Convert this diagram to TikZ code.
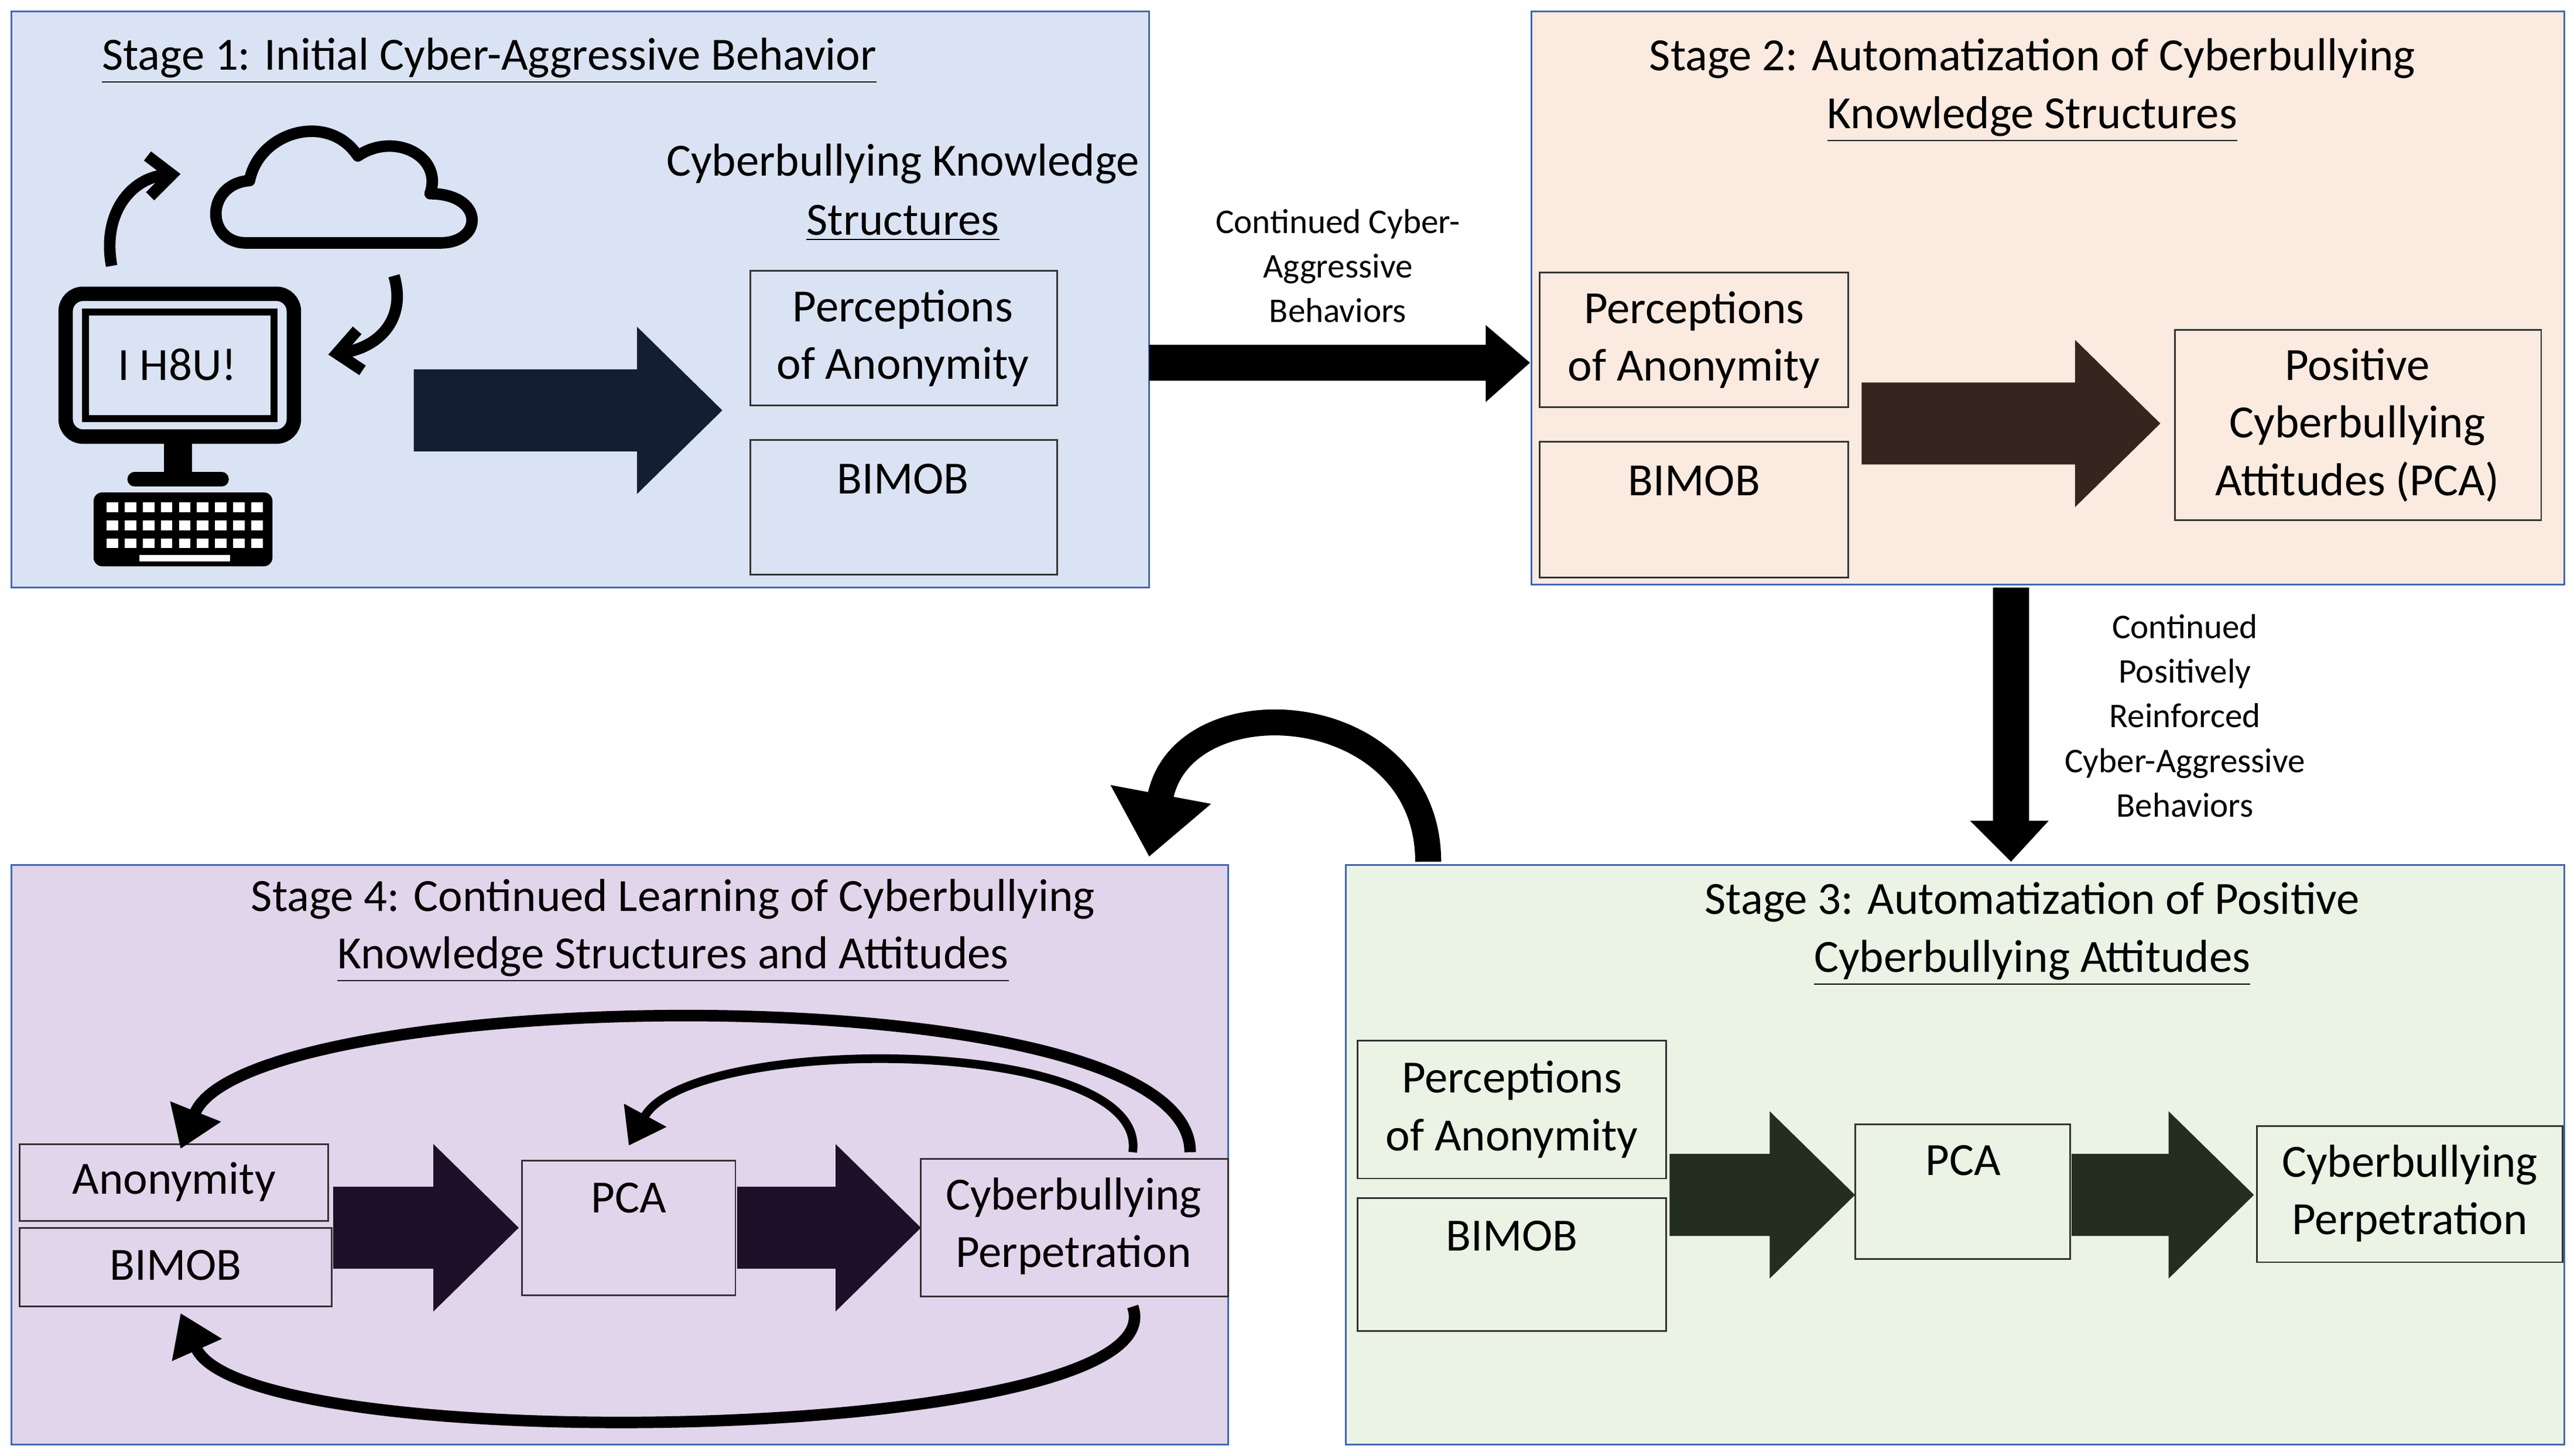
\documentclass[tikz,border=0pt]{standalone}
\usepackage{fontspec}
\setmainfont{Carlito}
\usetikzlibrary{positioning,arrows.meta}
\definecolor{stageblue}{RGB}{218,227,243}
\definecolor{stageorange}{RGB}{251,234,223}
\definecolor{stagegreen}{RGB}{235,243,228}
\definecolor{stagepurple}{RGB}{225,213,235}
\definecolor{edgeblue}{RGB}{68,104,176}
\definecolor{arrowblue}{RGB}{20,30,50}
\definecolor{arrowbrown}{RGB}{52,38,30}
\definecolor{arrowgreen}{RGB}{35,45,32}
\definecolor{arrowpurple}{RGB}{30,16,40}
\tikzset{
  stage/.style={draw=edgeblue, line width=0.6pt},
  box/.style={draw=black!80, line width=0.6pt, fill=none},
  boxtext/.style={font=\fontsize{16}{20}\selectfont, align=center},
  title/.style={font=\fontsize{16}{20}\selectfont, align=center},
  note/.style={font=\fontsize{12}{15.5}\selectfont, align=center},
  loop/.style={line width=9pt, -{Triangle[length=22pt,width=34pt]}},
}
% block arrow: x-start, x-end, y-centre, colour
\newcommand{\blockarrow}[4]{%
  \fill[#4] (#1,#3-25) -- (#2-52,#3-25) -- (#2-52,#3-51) -- (#2,#3)
    -- (#2-52,#3+51) -- (#2-52,#3+25) -- (#1,#3+25) -- cycle;}
\begin{document}
\begin{tikzpicture}[x=0.02cm, y=-0.02cm]
    \useasboundingbox (0,0) rectangle (1568,887);

    % Stage boxes
    \fill[stageblue] (7,7) rectangle (700,358);
    \draw[stage] (7,7) rectangle (700,358);
    \fill[stageorange] (933,7) rectangle (1562,356);
    \draw[stage] (933,7) rectangle (1562,356);
    \fill[stagegreen] (820,527) rectangle (1562,880);
    \draw[stage] (820,527) rectangle (1562,880);
    \fill[stagepurple] (7,527) rectangle (748,880);
    \draw[stage] (7,527) rectangle (748,880);

    % Stage 1
    \node[title] (t1) at (298,37) {\underline{Stage 1: Initial Cyber-Aggressive Behavior}};
    \node[title] (k1) at (550,100) {Cyberbullying Knowledge};
    \node[title] (k1b) at (550,136) {\underline{Structures}};
    \draw[box] (457,165) rectangle (644,247);
    \node[boxtext] (pa1) at (550,206) {Perceptions\\of Anonymity};
    \draw[box] (457,268) rectangle (644,350);
    \node[boxtext] (bi1) at (550,292) {BIMOB};
    \blockarrow{252}{440}{250}{arrowblue}

    % computer icon
    \draw[line width=5pt, rounded corners=6pt] (40,179) rectangle (179,266);
    \draw[line width=2.5pt] (52,190) rectangle (167,255);
    \node[boxtext] (h8u) at (108,222) {I H8U!};
    \fill (100,266) rectangle (117,290);
    \draw[line width=5pt, line cap=round] (82,292) -- (135,292);
    \fill[rounded corners=3pt] (57,300) rectangle (166,345);
    \foreach \r in {0,1,2} {
      \foreach \c in {0,...,8} {
        \fill[white] (65+\c*11,306+\r*11) rectangle (72+\c*11,312+\r*11);
      }
    }
    \fill[white] (85,338) rectangle (140,342);
    % cloud
    \draw[line width=4pt, line join=round]
      (150,148) .. controls (125,148) and (125,112) .. (152,110)
      .. controls (158,80) and (200,68) .. (218,95)
      .. controls (240,80) and (270,95) .. (262,118)
      .. controls (295,118) and (295,148) .. (268,148) -- cycle;
    \draw[line width=4pt, -{Straight Barb[length=8pt,width=14pt]}]
      (68,162) .. controls (62,130) and (80,108) .. (110,106);
    \draw[line width=4pt, -{Straight Barb[length=8pt,width=14pt]}]
      (240,168) .. controls (248,195) and (230,212) .. (200,216);

    % Stage 1 -> 2
    \fill[black] (700,210) -- (905,210) -- (905,198) -- (932,221) -- (905,245)
      -- (905,232) -- (700,232) -- cycle;
    \node[note] (c12) at (815,162) {Continued Cyber-\\Aggressive\\Behaviors};

    % Stage 2
    \node[title] (t2) at (1238,55) {Stage 2: Automatization of Cyberbullying\\\underline{Knowledge Structures}};
    \draw[box] (938,166) rectangle (1126,248);
    \node[boxtext] (pa2) at (1032,207) {Perceptions\\of Anonymity};
    \draw[box] (938,269) rectangle (1126,352);
    \node[boxtext] (bi2) at (1032,293) {BIMOB};
    \blockarrow{1134}{1316}{258}{arrowbrown}
    \draw[box] (1325,201) rectangle (1548,317);
    \node[boxtext] (pca2) at (1436,259) {Positive\\Cyberbullying\\Attitudes (PCA)};

    % Stage 2 -> 3
    \fill[black] (1214,358) -- (1236,358) -- (1236,500) -- (1248,500) -- (1225,525)
      -- (1200,500) -- (1214,500) -- cycle;
    \node[note] (c23) at (1331,436) {Continued\\Positively\\Reinforced\\Cyber-Aggressive\\Behaviors};

    % Stage 3
    \node[title] (t3) at (1238,569) {Stage 3: Automatization of Positive\\\underline{Cyberbullying Attitudes}};
    \draw[box] (827,634) rectangle (1015,718);
    \node[boxtext] (pa3) at (921,676) {Perceptions\\of Anonymity};
    \draw[box] (827,730) rectangle (1015,811);
    \node[boxtext] (bi3) at (921,753) {BIMOB};
    \blockarrow{1017}{1130}{728}{arrowgreen}
    \draw[box] (1130,685) rectangle (1261,767);
    \node[boxtext] (pca3) at (1196,707) {PCA};
    \blockarrow{1262}{1373}{728}{arrowgreen}
    \draw[box] (1375,686) rectangle (1561,769);
    \node[boxtext] (cp3) at (1468,727) {Cyberbullying\\Perpetration};

    % Stage 3 -> 4
    \coordinate (l3) at (870,525);
    \coordinate (l4) at (700,522);
    \draw[loop] (l3) .. controls (870,425) and (720,415) .. (l4);

    % Stage 4
    \node[title] (t4) at (410,567) {Stage 4: Continued Learning of Cyberbullying\\\underline{Knowledge Structures and Attitudes}};
    \draw[box] (12,697) rectangle (200,744);
    \node[boxtext] (an4) at (106,720) {Anonymity};
    \draw[box] (12,748) rectangle (202,796);
    \node[boxtext] (bi4) at (107,771) {BIMOB};
    \blockarrow{203}{316}{748}{arrowpurple}
    \draw[box] (318,707) rectangle (448,789);
    \node[boxtext] (pca4) at (383,730) {PCA};
    \blockarrow{449}{561}{748}{arrowpurple}
    \draw[box] (561,706) rectangle (748,790);
    \node[boxtext] (cp4) at (654,747) {Cyberbullying\\Perpetration};

    % feedback loops
    \coordinate (o1) at (725,702);
    \coordinate (o2) at (690,702);
    \coordinate (o3) at (690,796);
    \draw[line width=4pt, -{Triangle[length=14pt,width=18pt]}]
      (o1) .. controls (725,590) and (150,600) .. (110,700);
    \draw[line width=3pt, -{Triangle[length=12pt,width=16pt]}]
      (o2) .. controls (700,630) and (420,630) .. (383,698);
    \draw[line width=4pt, -{Triangle[length=14pt,width=18pt]}]
      (o3) .. controls (720,880) and (150,890) .. (110,800);
\end{tikzpicture}
\end{document}
